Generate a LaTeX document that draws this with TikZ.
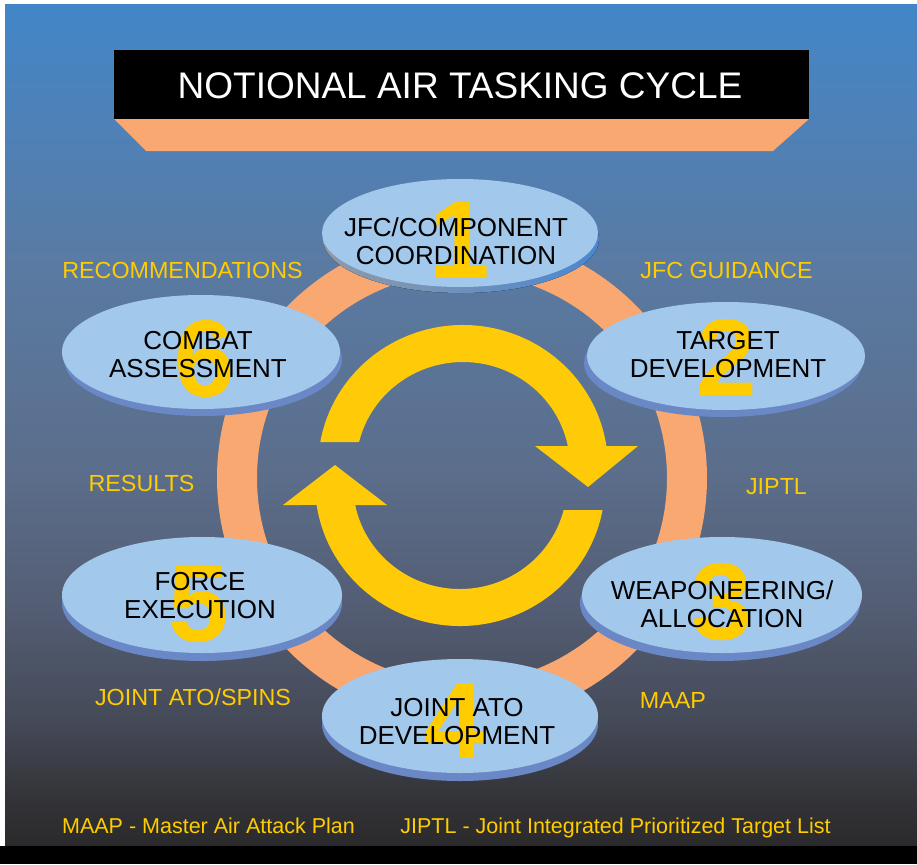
\documentclass[tikz,border=0pt]{standalone}
\usepackage{fontspec}
\setmainfont{Liberation Sans}
\usetikzlibrary{shapes.geometric,calc}
\definecolor{bgA}{HTML}{4286C8}
\definecolor{bgB}{HTML}{5080B4}
\definecolor{bgC}{HTML}{5A7AA2}
\definecolor{bgD}{HTML}{5B6D8A}
\definecolor{bgE}{HTML}{545E75}
\definecolor{bgF}{HTML}{454A58}
\definecolor{bgG}{HTML}{333337}
\definecolor{bgH}{HTML}{2A2A2C}
\definecolor{ringorange}{HTML}{F8A870}
\definecolor{faceblue}{HTML}{A2C8EB}
\definecolor{shadowblue}{HTML}{6A88C6}
\definecolor{shgray}{HTML}{9299A8}
\definecolor{shblue}{HTML}{4A88D0}
\definecolor{gold}{HTML}{FFCC00}
\definecolor{arrowgold}{HTML}{FFCA08}
\pgfdeclareverticalshading{bgshade}{100bp}{color(0bp)=(bgH); color(25bp)=(bgH); color(27.7bp)=(bgG); color(32.5bp)=(bgF); color(39.6bp)=(bgE); color(46.8bp)=(bgD); color(59.2bp)=(bgC); color(66.4bp)=(bgB); color(75bp)=(bgA); color(100bp)=(bgA)}
\tikzset{
  face/.style={ellipse, fill=faceblue, inner sep=0pt},
  digit/.style={text=gold, font=\fontsize{109}{109}\selectfont\bfseries, anchor=base, inner sep=0pt},
  stagetext/.style={text=black, font=\fontsize{26}{28}\selectfont, align=center, anchor=north, inner sep=0pt},
  flowlabel/.style={text=gold, font=\fontsize{23.3}{26}\selectfont, anchor=base, inner sep=0pt},
  footlabel/.style={text=gold, font=\fontsize{21.5}{24}\selectfont, anchor=base, inner sep=0pt},
}
\begin{document}
\begin{tikzpicture}[x=1pt,y=-1pt]
\useasboundingbox (0,0) rectangle (917,864);
\fill[white] (0,0) rectangle (917,864);
% background
\fill[shading=bgshade] (5,5) rectangle (917,846);
\fill[black] (0,846) rectangle (917,864);
% title
\fill[ringorange] (114,119) -- (809,119) -- (773,151) -- (146,151) -- cycle;
\fill[black] (114,50) rectangle (809,119);
\node[text=white, font=\fontsize{37}{40}\selectfont, anchor=base, inner sep=0pt] (title) at (460,99) {NOTIONAL AIR TASKING CYCLE};
% ring
\draw[ringorange, line width=40pt] (462,478) circle[radius=225];
% ellipse shadows
\fill[left color=shgray, right color=shblue] (461,239) ellipse[x radius=138, y radius=54];
\fill[shadowblue] (723,363) ellipse[x radius=139, y radius=54];
\fill[shadowblue] (720,603) ellipse[x radius=140, y radius=58];
\fill[shadowblue] (460,724) ellipse[x radius=138, y radius=57];
\fill[shadowblue] (202,603) ellipse[x radius=140, y radius=58];
\fill[shadowblue] (203,359) ellipse[x radius=139, y radius=57];
% ellipse faces
\node[face, minimum width=276pt, minimum height=108pt] (e1) at (460,233) {};
\node[face, minimum width=278pt, minimum height=108pt] (e2) at (726,356) {};
\node[face, minimum width=280pt, minimum height=116pt] (e3) at (722,595) {};
\node[face, minimum width=276pt, minimum height=114pt] (e4) at (460,716) {};
\node[face, minimum width=280pt, minimum height=116pt] (e5) at (202,595) {};
\node[face, minimum width=278pt, minimum height=114pt] (e6) at (201,352) {};
% digits
\node[digit] (n1) at (460,277) {1};
\node[digit] (n2) at (727,395) {2};
\node[digit] (n3) at (722,639) {3};
\node[digit] (n4) at (455,758) {4};
\node[digit] (n5) at (199,641) {5};
\node[digit] (n6) at (205,396) {6};
% stage texts
\node[stagetext] (t1) at (456,217) {JFC/COMPONENT\\COORDINATION};
\node[stagetext] (t2) at (728,331) {TARGET\\DEVELOPMENT};
\node[stagetext] (t3) at (722,580) {WEAPONEERING/\\ALLOCATION};
\node[stagetext] (t4) at (457,698) {JOINT ATO\\DEVELOPMENT};
\node[stagetext] (t5) at (200,572) {FORCE\\EXECUTION};
\node[stagetext] (t6) at (198,331) {COMBAT\\ASSESSMENT};
% flow labels
\node[flowlabel] (l1) at (182.5,278) {RECOMMENDATIONS};
\node[flowlabel] (l2) at (726.5,278) {JFC GUIDANCE};
\node[flowlabel] (l3) at (141.5,491) {RESULTS};
\node[flowlabel] (l4) at (776.5,494) {JIPTL};
\node[flowlabel] (l5) at (193,705) {JOINT ATO/SPINS};
\node[flowlabel] (l6) at (673,708) {MAAP};
% cycle arrows
\coordinate (c1) at (463,467);
\coordinate (c2) at (460,484);
\fill[arrowgold] ($(c1)+(-169.86:145 and 142)$) arc[start angle=-169.86, end angle=-8.5, x radius=145, y radius=142]
  -- (638,446) -- (588,487) -- (535,446) -- ($(c1)+(-11.54:107 and 105)$)
  arc[start angle=-11.54, end angle=-166.23, x radius=107, y radius=105] -- cycle;
\fill[arrowgold] ($(c2)+(10.55:145 and 142)$) arc[start angle=10.55, end angle=171.5, x radius=145, y radius=142]
  -- (283,505) -- (335,465) -- (387,505) -- ($(c2)+(168.46:107 and 105)$)
  arc[start angle=168.46, end angle=14.34, x radius=107, y radius=105] -- cycle;
% footer
\node[footlabel] (f1) at (208.5,833) {MAAP - Master Air Attack Plan};
\node[footlabel] (f2) at (615.5,833) {JIPTL - Joint Integrated Prioritized Target List};
\end{tikzpicture}
\end{document}
